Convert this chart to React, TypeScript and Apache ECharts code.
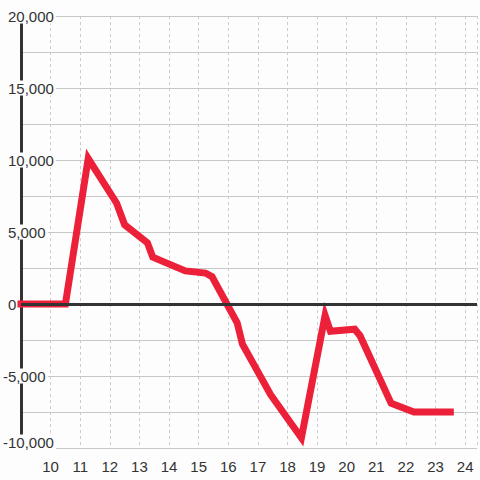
import React, { useEffect, useRef } from "react";
import * as echarts from "echarts";

// Hours of the day (x) and values (y)
const hours = [9, 10.5, 11.27, 12.23, 12.5, 13.27, 13.45, 14.55, 15.23, 15.45, 16.3, 16.48, 17.43, 18.47, 19.27, 19.45, 20.27, 20.45, 21.5, 22.27, 23.5];
const values = [0, 0, 10100, 7000, 5500, 4250, 3250, 2300, 2150, 1900, -1300, -2800, -6300, -9300, -800, -1900, -1750, -2200, -6900, -7500, -7500];
const xTickLabels = [10, 11, 12, 13, 14, 15, 16, 17, 18, 19, 20, 21, 22, 23, 24];
const yLabelStep = 5000;

const BG = "#fdfdfd";
const RED = "#ec2139";
const INK = "#333333";
const FONT = "Liberation Sans, Arial, sans-serif";

export default function App() {
  const ref = useRef<HTMLDivElement>(null);

  useEffect(() => {
    document.body.style.margin = "0";
    const chart = echarts.init(ref.current!, undefined, { renderer: "svg" });
    const tok = (pad: number[]) => ({
      fontSize: 15,
      fontFamily: FONT,
      color: INK,
      lineHeight: 16,
      backgroundColor: BG,
      padding: pad,
    });
    chart.setOption({
      animation: false,
      backgroundColor: BG,
      grid: { left: 20, right: -2, top: 16, bottom: 32, containLabel: false },
      xAxis: {
        type: "value",
        min: 9,
        max: 24.4,
        interval: 1,
        axisLine: { show: false },
        axisTick: { show: false },
        minorTick: { show: false },
        minorSplitLine: { show: false },
        axisLabel: {
          margin: 11,
          fontSize: 15,
          fontFamily: FONT,
          color: INK,
          formatter: (v: number) =>
            xTickLabels.includes(v) ? String(v) : "",
        },
        splitLine: {
          show: true,
          lineStyle: { color: "#cccccc", width: 1, type: [3, 3] },
        },
      },
      yAxis: {
        type: "value",
        min: -10000,
        max: 20000,
        interval: 2500,
        z: 1,
        axisLine: { show: true, lineStyle: { color: INK, width: 3 } },
        axisTick: { show: false },
        minorTick: { show: false },
        minorSplitLine: { show: false },
        axisLabel: {
          margin: 18,
          align: "left",
          fontSize: 15,
          fontFamily: FONT,
          color: INK,
          formatter: (v: number) => {
            if (v % yLabelStep !== 0) return "";
            const s = v.toLocaleString("en-US");
            if (v === -10000) return `{b|${s}}`;
            if (v < 0) return `{n|${s}}`;
            return `{p|${s}}`;
          },
          rich: {
            p: tok([0, 2, 0, 5]),
            n: tok([0, 2, 0, 0]),
            b: tok([0, 2, 12, 0]),
          },
        },
        splitLine: { show: true, lineStyle: { color: "#c8c8c8", width: 1 } },
      },
      series: [
        {
          type: "line",
          data: hours.map((h, i) => [h, values[i]]),
          showSymbol: false,
          symbol: "none",
          lineStyle: { color: RED, width: 7, cap: "square", join: "miter" },
          markLine: {
            silent: true,
            symbol: ["none", "none"],
            label: { show: false },
            lineStyle: { color: INK, width: 3, type: "solid" },
            data: [{ yAxis: 0 }],
          },
        },
      ],
    });
    return () => chart.dispose();
  }, []);

  return <div ref={ref} style={{ width: 480, height: 480 }} />;
}
